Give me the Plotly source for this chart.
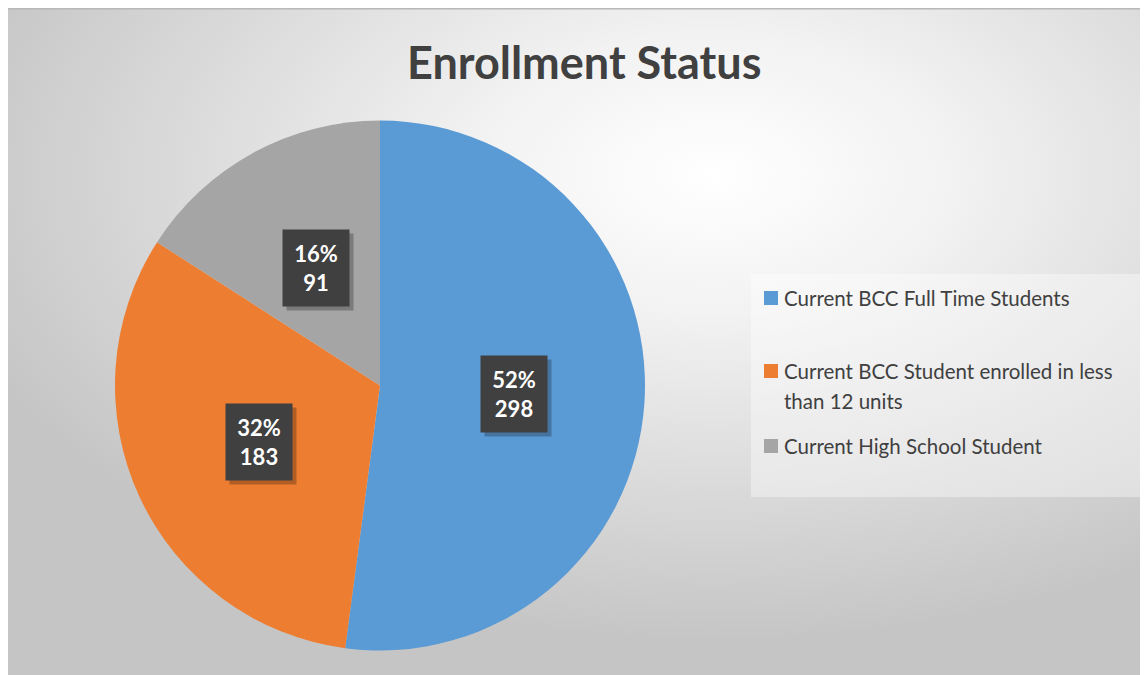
import base64
import math
import textwrap

import plotly.graph_objects as go

labels = [
    "Current BCC Full Time Students",
    "Current BCC Student enrolled in less than 12 units",
    "Current High School Student",
]
counts = [298, 183, 91]
colors = ["#5B9BD5", "#ED7D31", "#A5A5A5"]
title = "Enrollment Status"

# the page body has an 8px margin, so the figure sits at (8, 8)
OX, OY = 8, 8
W, H = 1140, 667


def px(x):
    return (x - OX) / W


def py(y):
    return 1 - (y - OY) / H


# pie geometry in page pixels
cx, cy, r = 380, 385.5, 265

# background: radial grey gradient as an svg image
svg = (
    '<svg xmlns="http://www.w3.org/2000/svg" width="1141" height="667">'
    '<defs><radialGradient id="g" cx="0.62" cy="0.25" r="0.7">'
    '<stop offset="0" stop-color="#ffffff"/>'
    '<stop offset="0.3" stop-color="#f2f2f2"/>'
    '<stop offset="1" stop-color="#c5c5c5"/>'
    '</radialGradient></defs>'
    '<rect width="1141" height="667" fill="url(#g)"/></svg>'
)
bg_src = "data:image/svg+xml;base64," + base64.b64encode(svg.encode()).decode()

fig = go.Figure(go.Pie(
    labels=labels,
    values=counts,
    marker=dict(colors=colors, line=dict(width=0)),
    sort=False,
    direction="clockwise",
    rotation=0,
    textinfo="none",
    hoverinfo="skip",
    showlegend=False,
    domain=dict(x=[px(cx - r), px(cx + r)], y=[py(cy + r), py(cy - r)]),
))

annotations = []
shapes = []

# data labels in dark boxes
total = sum(counts)
cum = 0
for v in counts:
    mid = (cum + v / 2) / total * 2 * math.pi
    cum += v
    lx = cx + 0.505 * r * math.sin(mid)
    ly = cy - 0.505 * r * math.cos(mid)
    pct = round(v / total * 100)
    # shadow
    annotations.append(dict(
        x=px(lx), y=py(ly), xref="paper", yref="paper", showarrow=False,
        text=" ", width=58, height=68, borderpad=4, xshift=4, yshift=-4,
        bgcolor="rgba(0,0,0,0.25)", xanchor="center", yanchor="middle",
    ))
    annotations.append(dict(
        x=px(lx), y=py(ly), xref="paper", yref="paper", showarrow=False,
        text=f"<b>{pct}%<br>{v}</b>", width=58, height=68, borderpad=4,
        bgcolor="#404040", xanchor="center", yanchor="middle",
        font=dict(family="Lato", size=22, color="white"),
    ))

# title
annotations.append(dict(
    x=px(584), y=py(62), xref="paper", yref="paper", showarrow=False,
    text=f"<b>{title}</b>", xanchor="center", yanchor="middle",
    font=dict(family="Lato", size=45, color="#404040"),
))

# legend box
shapes.append(dict(
    type="rect", xref="paper", yref="paper",
    x0=px(751), x1=px(1143), y0=py(497), y1=py(274),
    fillcolor="rgba(255,255,255,0.38)", line=dict(width=0), layer="below",
))
legend_y = [298, 371, 446]
for lab, col, ly in zip(labels, colors, legend_y):
    shapes.append(dict(
        type="rect", xref="paper", yref="paper",
        x0=px(764), x1=px(778), y0=py(ly + 7), y1=py(ly - 7),
        fillcolor=col, line=dict(width=0),
    ))
    for i, line in enumerate(textwrap.wrap(lab, 36)):
        annotations.append(dict(
            x=px(782), y=py(ly + 30 * i), xref="paper", yref="paper",
            showarrow=False, text=line, xanchor="left", yanchor="middle",
            font=dict(family="Lato", size=20.5, color="#404040"),
        ))

# top border line of the chart area
shapes.append(dict(
    type="line", xref="paper", yref="paper",
    x0=px(7), x1=1, y0=py(8.5), y1=py(8.5),
    line=dict(color="#b8b8b8", width=2),
))

fig.update_layout(
    width=W,
    height=H,
    margin=dict(l=0, r=0, t=0, b=0),
    paper_bgcolor="white",
    images=[dict(
        source=bg_src, xref="paper", yref="paper",
        x=px(7), y=py(8), sizex=1, sizey=1,
        xanchor="left", yanchor="top", sizing="stretch", layer="below",
    )],
    shapes=shapes,
    annotations=annotations,
)

fig.write_html("out.html")
